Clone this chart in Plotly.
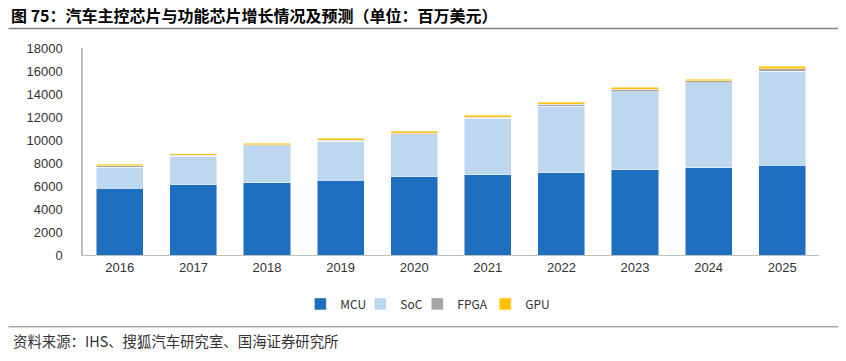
import plotly.graph_objects as go

years = ["2016", "2017", "2018", "2019", "2020", "2021", "2022", "2023", "2024", "2025"]
mcu = [5800, 6100, 6300, 6500, 6800, 7000, 7150, 7400, 7600, 7800]
soc = [1850, 2480, 3180, 3400, 3650, 4880, 5800, 6800, 7400, 8180]
fpga = [90, 90, 100, 100, 120, 110, 150, 200, 150, 200]
gpu = [150, 150, 130, 150, 170, 150, 200, 200, 150, 230]
y_ticks = [0, 2000, 4000, 6000, 8000, 10000, 12000, 14000, 16000, 18000]
y_tick_labels = ["0", "2000", "4000", "6000", "8000", "10000", "12000", "14000", "16000", "18000"]

W, H = 846, 361
L, R, T, B = 82.5, 27, 47.5, 106
pw, ph = W - L - R, H - T - B

def px(x):
    return (x - L) / pw

def py(y):
    return (H - B - y) / ph

series = [
    ("MCU", mcu, "#1F6FC1", "legend", 300),
    ("SoC", soc, "#BDD7EE", "legend2", 360),
    ("FPGA", fpga, "#A5A5A5", "legend3", 417),
    ("GPU", gpu, "#FFC000", "legend4", 485),
]

fig = go.Figure()
leg_font = dict(family="Noto Sans CJK SC, DejaVu Sans", size=12, color="#333333")
layout_legends = {}
for name, vals, col, lg, lx in series:
    fig.add_trace(go.Bar(
        x=years, y=vals, name=name, legend=lg,
        marker=dict(color=col, line=dict(color="rgba(255,255,255,0.6)", width=0.8)),
    ))
    layout_legends[lg] = dict(orientation="h", x=px(lx), xanchor="left", y=py(304),
                              yanchor="middle", font=leg_font, itemwidth=30,
                              bgcolor="rgba(0,0,0,0)", borderwidth=0)

font_main = "Liberation Sans, Arial, sans-serif"
fig.update_layout(
    width=W, height=H,
    barmode="stack", bargap=0.36,
    margin=dict(l=L, r=R, t=T, b=B, pad=0, autoexpand=False),
    paper_bgcolor="white", plot_bgcolor="white",
    showlegend=True,
    xaxis=dict(showline=True, linecolor="#BFBFBF", linewidth=1, ticks="",
               tickfont=dict(family=font_main, size=13, color="#333333"),
               showgrid=False, zeroline=False),
    yaxis=dict(range=[0, 18000], tickvals=y_ticks, ticktext=y_tick_labels, showline=True,
               linecolor="#BFBFBF", linewidth=1.5, ticks="", showgrid=False, zeroline=False,
               tickfont=dict(family=font_main, size=13, color="#333333"), ticklabelstandoff=16),
    **layout_legends,
)

fig.add_annotation(
    text="<b>图 75：汽车主控芯片与功能芯片增长情况及预测（单位：百万美元）</b>",
    xref="paper", yref="paper", x=px(8), y=py(14), xanchor="left", yanchor="middle",
    showarrow=False, font=dict(family="Noto Sans CJK SC", size=16, color="#000000"),
)
fig.add_shape(type="line", xref="paper", yref="paper", x0=px(8), x1=px(838), y0=py(28), y1=py(28),
              line=dict(color="#7F7F7F", width=1.5))
fig.add_shape(type="line", xref="paper", yref="paper", x0=px(8), x1=px(838), y0=py(327), y1=py(327),
              line=dict(color="#7F7F7F", width=1))
fig.add_annotation(
    text="资料来源：IHS、搜狐汽车研究室、国海证券研究所",
    xref="paper", yref="paper", x=px(10), y=py(341), xanchor="left", yanchor="middle",
    showarrow=False, font=dict(family="Noto Sans CJK SC", size=14.4, color="#333333"),
)

fig.write_html("out.html", config={"displayModeBar": False},
               post_script="document.body.style.margin='0';document.body.style.overflow='hidden';")
